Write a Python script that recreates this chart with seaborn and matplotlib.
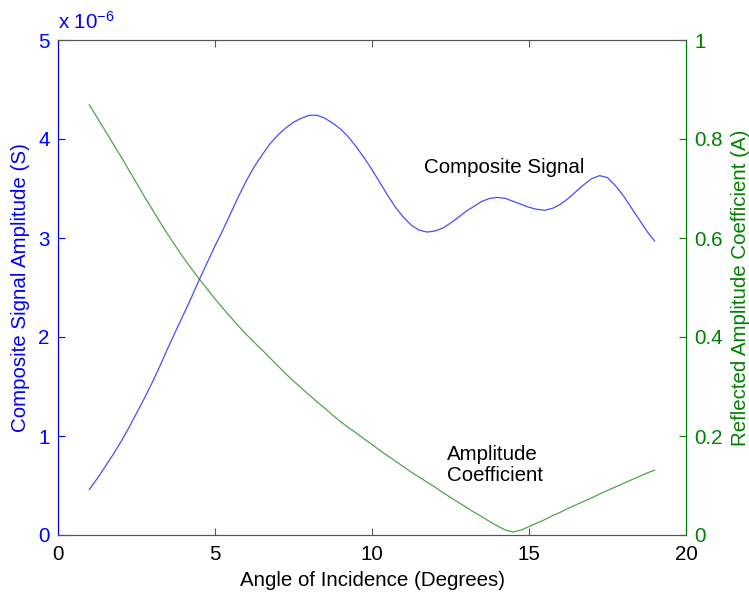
import seaborn as sns
import matplotlib.pyplot as plt
import pandas as pd
import numpy as np

# angle of incidence (degrees)
angle = [1.00, 1.25, 1.50, 1.75, 2.00, 2.25, 2.50, 2.75, 3.00, 3.25, 3.50, 3.75, 4.00, 4.25, 4.50, 4.75,
         5.00, 5.25, 5.50, 5.75, 6.00, 6.25, 6.50, 6.75, 7.00, 7.25, 7.50, 7.75, 8.00, 8.25, 8.50, 8.75,
         9.00, 9.25, 9.50, 9.75, 10.00, 10.25, 10.50, 10.75, 11.00, 11.25, 11.50, 11.75, 12.00, 12.25, 12.50, 12.75,
         13.00, 13.25, 13.50, 13.75, 14.00, 14.25, 14.50, 14.75, 15.00, 15.25, 15.50, 15.75, 16.00, 16.25, 16.50, 16.75,
         17.00, 17.25, 17.50, 17.75, 18.00, 18.25, 18.50, 18.75, 19.00]
# composite signal amplitude, in units of 1e-6
signal = [0.46, 0.57, 0.69, 0.81, 0.94, 1.08, 1.23, 1.38, 1.54, 1.71, 1.89, 2.06, 2.23, 2.40, 2.58, 2.75,
          2.92, 3.08, 3.25, 3.42, 3.58, 3.72, 3.84, 3.95, 4.04, 4.11, 4.17, 4.21, 4.24, 4.24, 4.21, 4.16,
          4.10, 4.02, 3.92, 3.81, 3.69, 3.56, 3.43, 3.31, 3.21, 3.13, 3.08, 3.06, 3.07, 3.10, 3.15, 3.21,
          3.27, 3.32, 3.37, 3.40, 3.41, 3.40, 3.37, 3.34, 3.31, 3.29, 3.28, 3.30, 3.34, 3.40, 3.47, 3.54,
          3.60, 3.63, 3.61, 3.53, 3.43, 3.31, 3.19, 3.07, 2.97]
# reflected amplitude coefficient
coef = [0.869, 0.843, 0.817, 0.791, 0.765, 0.738, 0.711, 0.684, 0.658, 0.632, 0.607, 0.583, 0.560, 0.538, 0.517, 0.497,
        0.477, 0.458, 0.440, 0.422, 0.405, 0.389, 0.374, 0.358, 0.342, 0.326, 0.311, 0.297, 0.283, 0.269, 0.256, 0.242,
        0.229, 0.217, 0.206, 0.194, 0.183, 0.171, 0.160, 0.149, 0.138, 0.127, 0.117, 0.107, 0.097, 0.086, 0.076, 0.066,
        0.056, 0.046, 0.037, 0.027, 0.018, 0.010, 0.006, 0.010, 0.017, 0.024, 0.031, 0.039, 0.046, 0.054, 0.061, 0.068,
        0.075, 0.083, 0.090, 0.097, 0.104, 0.111, 0.118, 0.125, 0.131]

df = pd.DataFrame({"angle": angle, "signal": signal, "coef": coef})

blue = "#0000FF"
green = "#008000"

plt.rcParams["font.family"] = ["Liberation Sans", "DejaVu Sans"]
plt.rcParams["font.size"] = 14.8
plt.rcParams["mathtext.default"] = "regular"

fig = plt.figure(figsize = (7.49, 5.92), dpi = 100)
ax = fig.add_axes([58 / 749, 1 - 535 / 592, 628 / 749, 495 / 592])
ax2 = ax.twinx()

sns.lineplot(data = df, x = "angle", y = "signal", ax = ax, color = blue, linewidth = 0.9, alpha = 0.7)
sns.lineplot(data = df, x = "angle", y = "coef", ax = ax2, color = green, linewidth = 0.9, alpha = 0.7)

ax.set_xlim(0, 20)
ax.set_ylim(0, 5)
ax2.set_ylim(0, 1)
ax.set_xticks([0, 5, 10, 15, 20])
ax.set_yticks([0, 1, 2, 3, 4, 5])
ax2.set_yticks([0, 0.2, 0.4, 0.6, 0.8, 1])
ax2.set_yticklabels(["0", "0.2", "0.4", "0.6", "0.8", "1"])

ax.set_xlabel("Angle of Incidence (Degrees)", labelpad = 5)
ax.set_ylabel("Composite Signal Amplitude (S)", color = blue, labelpad = 6)
ax2.set_ylabel("Reflected Amplitude Coefficient (A)", color = green, labelpad = 6)

ax.tick_params(axis = "x", direction = "in", top = True, colors = "#555555", labelcolor = "black", length = 5, pad = 7)
ax.tick_params(axis = "y", direction = "in", colors = blue, length = 5, pad = 6)
ax2.tick_params(axis = "y", direction = "in", colors = green, length = 5, pad = 6)
ax2.tick_params(axis = "x", top = False)

for a in (ax, ax2):
    a.spines["top"].set_color("#555555")
    a.spines["bottom"].set_color("#555555")
    a.spines["left"].set_color(blue)
    a.spines["right"].set_color(green)

ax.text(0, 1.015, r"x 10$^{-6}$", transform = ax.transAxes, color = blue, ha = "left", va = "bottom")
ax.text(11.66, 3.71, "Composite Signal", color = "black", va = "center")
ax2.text(12.39, 0.141, "Amplitude\nCoefficient", color = "black", va = "center", linespacing = 1.1)

plt.savefig("out.png", dpi = 100)
plt.close()
